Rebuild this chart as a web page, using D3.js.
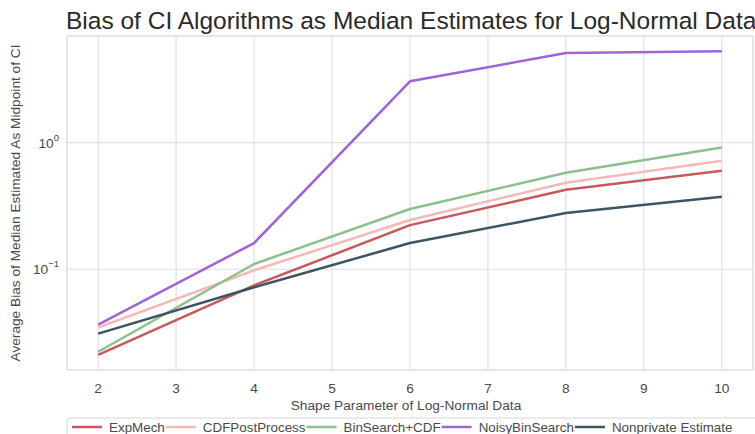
<!DOCTYPE html>
<html><head><meta charset="utf-8">
<script src="https://cdn.jsdelivr.net/npm/d3@7"></script>
<style>
body{margin:0;background:#fff;}
text{font-family:"Liberation Sans",Arial,sans-serif;}
</style></head>
<body>
<svg id="c" width="755" height="434"></svg>
<script>
const shapes = [2, 4, 6, 8, 10];
const xTicks = [2, 3, 4, 5, 6, 7, 8, 9, 10];
const seriesNames = ["ExpMech", "CDFPostProcess", "BinSearch+CDF", "NoisyBinSearch", "Nonprivate Estimate"];
const expMech = [0.0211, 0.0746, 0.223, 0.424, 0.600];
const cdfPost = [0.0347, 0.098, 0.245, 0.482, 0.720];
const binSearch = [0.0223, 0.110, 0.299, 0.578, 0.913];
const noisyBin = [0.0366, 0.161, 3.05, 5.09, 5.27];
const nonprivate = [0.0310, 0.072, 0.161, 0.278, 0.373];
const colors = ["#c8585c", "#f6b8b8", "#8cc08c", "#a064d8", "#3d5560"];
const yTicks = [0.1, 1];
const yTickExp = ["\u22121", "0"];

const allSeries = [expMech, cdfPost, binSearch, noisyBin, nonprivate];
const svg = d3.select("#c");
const L = 67, R = 753, T = 36, B = 370;
const FS = 13.7;

const x = d3.scaleLinear().domain([1.6, 10.4]).range([L, R]);
const allVals = allSeries.flat();
const lmin = Math.log10(d3.min(allVals)), lmax = Math.log10(d3.max(allVals));
const m = (lmax - lmin) * 0.05;
const y = d3.scaleLog().domain([Math.pow(10, lmin - m), Math.pow(10, lmax + m)]).range([B, T]);

// grid
const g = svg.append("g");
g.selectAll(".vx").data(xTicks).enter().append("line")
  .attr("x1", d => x(d)).attr("x2", d => x(d)).attr("y1", T).attr("y2", B)
  .attr("stroke", "#e0e0e0").attr("stroke-width", 1.2);
g.selectAll(".hy").data(yTicks).enter().append("line")
  .attr("x1", L).attr("x2", R).attr("y1", d => y(d)).attr("y2", d => y(d))
  .attr("stroke", "#e0e0e0").attr("stroke-width", 1.2);
svg.append("rect").attr("x", L).attr("y", T).attr("width", R - L).attr("height", B - T)
  .attr("fill", "none").attr("stroke", "#d6d6d6").attr("stroke-width", 1.2);

// lines
const line = d3.line().x((d, i) => x(shapes[i])).y(d => y(d));
allSeries.forEach((s, k) => {
  svg.append("path").datum(s).attr("d", line).attr("fill", "none")
    .attr("stroke", colors[k]).attr("stroke-width", 2.5).attr("stroke-linejoin", "round");
});

// x axis labels
svg.selectAll(".xt").data(xTicks).enter().append("text")
  .attr("x", d => x(d)).attr("y", 393).attr("text-anchor", "middle")
  .attr("font-size", FS).attr("fill", "#4a4a4a").text(d => d);

// y tick labels
yTicks.forEach((t, i) => {
  const tx = svg.append("text").attr("x", 59).attr("y", y(t) + 5).attr("text-anchor", "end")
    .attr("font-size", FS).attr("fill", "#4a4a4a");
  tx.append("tspan").text("10");
  tx.append("tspan").attr("dy", -7).attr("font-size", 9.5).text(yTickExp[i]);
});

// axis titles
svg.append("text").attr("x", 406).attr("y", 410).attr("text-anchor", "middle")
  .attr("font-size", FS).attr("fill", "#4a4a4a").text("Shape Parameter of Log-Normal Data");
svg.append("text").attr("transform", `translate(20,203) rotate(-90)`)
  .attr("text-anchor", "middle").attr("font-size", FS).attr("fill", "#4a4a4a")
  .text("Average Bias of Median Estimated As Midpoint of CI");

// title
svg.append("text").attr("x", 66).attr("y", 29).attr("text-anchor", "start")
  .attr("font-size", 24.5).attr("fill", "#2a2a2a")
  .text("Bias of CI Algorithms as Median Estimates for Log-Normal Data");

// legend
const lg = svg.append("g");
lg.append("rect").attr("x", 67).attr("y", 418).attr("width", 700).attr("height", 24)
  .attr("rx", 3).attr("fill", "#fff").attr("stroke", "#d6d6d6");
let cx = 72;
seriesNames.forEach((n, k) => {
  lg.append("line").attr("x1", cx).attr("x2", cx + 30).attr("y1", 427).attr("y2", 427)
    .attr("stroke", colors[k]).attr("stroke-width", 2.5);
  const t = lg.append("text").attr("x", cx + 37).attr("y", 432).attr("font-size", 13.4)
    .attr("fill", "#4a4a4a").text(n);
  cx += 37 + t.node().getComputedTextLength() + 1;
});
</script>
</body></html>
